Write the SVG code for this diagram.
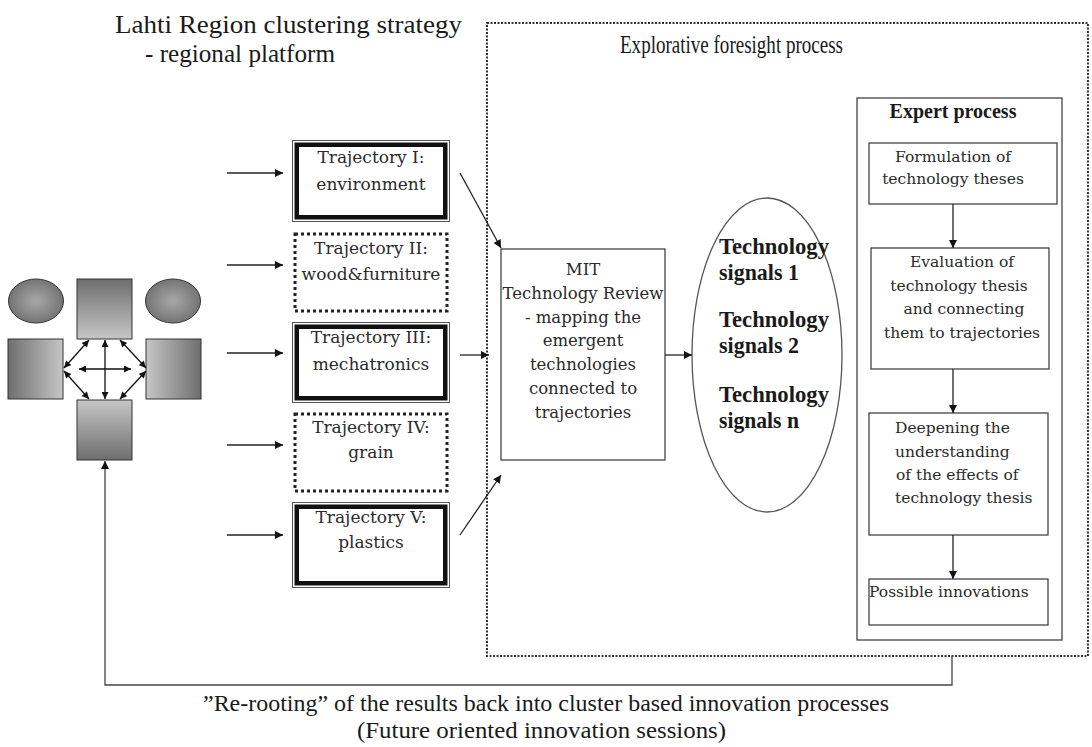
<svg xmlns="http://www.w3.org/2000/svg" width="1092" height="747" viewBox="0 0 1092 747">
<style>
.t{font-family:"DejaVu Serif",serif;fill:#2a2a2a;}
.tt{font-family:"Liberation Serif","Times New Roman",serif;fill:#1a1a1a;}
.ln{stroke:#222;stroke-width:1.3;fill:none;}
.box{fill:#fff;stroke:#444;stroke-width:1.3;}
.thin{fill:none;stroke:#555;stroke-width:1;}
.thick{fill:none;stroke:#111;stroke-width:4.5;}
.dotbox{fill:#fff;stroke:#222;stroke-width:3;stroke-dasharray:3 3;}
.sq{stroke:#333;stroke-width:1;}
</style>
<defs>
<marker id="ah" viewBox="0 0 10 10" refX="10" refY="5" markerWidth="10" markerHeight="8" markerUnits="userSpaceOnUse" orient="auto-start-reverse"><path d="M0,0 L10,5 L0,10 z" fill="#111"/></marker>
<marker id="sh" viewBox="0 0 10 10" refX="10" refY="5" markerWidth="8" markerHeight="7" markerUnits="userSpaceOnUse" orient="auto-start-reverse"><path d="M0,0 L10,5 L0,10 z" fill="#111"/></marker>
<linearGradient id="gTop" x1="0" y1="0" x2="0" y2="1"><stop offset="0" stop-color="#6e6e6e"/><stop offset="1" stop-color="#c6c6c6"/></linearGradient>
<linearGradient id="gBot" x1="0" y1="0" x2="0" y2="1"><stop offset="0" stop-color="#c6c6c6"/><stop offset="1" stop-color="#6e6e6e"/></linearGradient>
<linearGradient id="gLeft" x1="0" y1="0" x2="1" y2="0"><stop offset="0" stop-color="#6e6e6e"/><stop offset="1" stop-color="#c6c6c6"/></linearGradient>
<linearGradient id="gRight" x1="0" y1="0" x2="1" y2="0"><stop offset="0" stop-color="#c6c6c6"/><stop offset="1" stop-color="#6e6e6e"/></linearGradient>
<radialGradient id="gEl" cx="0.5" cy="0.5" r="0.6"><stop offset="0" stop-color="#a8a8a8"/><stop offset="1" stop-color="#6a6a6a"/></radialGradient>
</defs>
<rect width="1092" height="747" fill="#fff"/>

<g id="title">
<text class="tt" x="115" y="33" font-size="26" textLength="347" lengthAdjust="spacingAndGlyphs">Lahti Region clustering strategy</text>
<text class="tt" x="145" y="62" font-size="26" textLength="190" lengthAdjust="spacingAndGlyphs">- regional platform</text>
</g>

<g id="foresight-frame">
<rect x="487" y="23" width="601" height="633" fill="none" stroke="#333" stroke-width="2" stroke-dasharray="2 1.5"/>
<text class="tt" x="620" y="53" font-size="25" textLength="223" lengthAdjust="spacingAndGlyphs">Explorative foresight process</text>
</g>

<g id="cluster">
<ellipse cx="36" cy="301" rx="27.5" ry="22" fill="url(#gEl)" class="sq"/>
<ellipse cx="173" cy="301" rx="27.5" ry="22" fill="url(#gEl)" class="sq"/>
<rect x="77" y="279" width="55" height="60" fill="url(#gTop)" class="sq"/>
<rect x="8" y="339" width="55" height="60" fill="url(#gLeft)" class="sq"/>
<rect x="146" y="339" width="55" height="60" fill="url(#gRight)" class="sq"/>
<rect x="77" y="400" width="55" height="60" fill="url(#gBot)" class="sq"/>
<g stroke="#111" stroke-width="1.3" marker-start="url(#sh)" marker-end="url(#sh)">
<line x1="105" y1="340" x2="105" y2="399"/>
<line x1="79" y1="369" x2="131" y2="369"/>
<line x1="89" y1="340" x2="64" y2="368"/>
<line x1="120" y1="340" x2="146" y2="368"/>
<line x1="64" y1="371" x2="89" y2="399"/>
<line x1="146" y1="371" x2="120" y2="399"/>
</g>
</g>

<g id="traj1">
<rect x="292.5" y="140.5" width="157" height="81" class="thin" fill="#fff"/>
<rect x="296.75" y="144.75" width="148.5" height="72.5" class="thick"/>
<text class="t" x="371" y="163" font-size="17" text-anchor="middle">Trajectory I:</text>
<text class="t" x="371" y="190" font-size="17" text-anchor="middle">environment</text>
</g>
<g id="traj2">
<rect x="295" y="234" width="152" height="77" class="dotbox"/>
<text class="t" x="371" y="254" font-size="17" text-anchor="middle">Trajectory II:</text>
<text class="t" x="371" y="280" font-size="17" text-anchor="middle">wood&amp;furniture</text>
</g>
<g id="traj3">
<rect x="292.5" y="322.5" width="157" height="80" class="thin" fill="#fff"/>
<rect x="296.75" y="326.75" width="148.5" height="71.5" class="thick"/>
<text class="t" x="371" y="343" font-size="17" text-anchor="middle">Trajectory III:</text>
<text class="t" x="371" y="370" font-size="17" text-anchor="middle">mechatronics</text>
</g>
<g id="traj4">
<rect x="295" y="414" width="152" height="77" class="dotbox"/>
<text class="t" x="371" y="433" font-size="17" text-anchor="middle">Trajectory IV:</text>
<text class="t" x="371" y="458" font-size="17" text-anchor="middle">grain</text>
</g>
<g id="traj5">
<rect x="292.5" y="502.5" width="157" height="85" class="thin" fill="#fff"/>
<rect x="296.75" y="506.75" width="148.5" height="76.5" class="thick"/>
<text class="t" x="371" y="523" font-size="17" text-anchor="middle">Trajectory V:</text>
<text class="t" x="371" y="548" font-size="17" text-anchor="middle">plastics</text>
</g>

<g id="mit">
<rect x="501" y="249" width="164" height="211" class="box"/>
<g class="t" font-size="16.5" text-anchor="middle">
<text x="583" y="275">MIT</text>
<text x="583" y="299">Technology Review</text>
<text x="583" y="322.5">- mapping the</text>
<text x="583" y="346">emergent</text>
<text x="583" y="370">technologies</text>
<text x="583" y="394">connected to</text>
<text x="583" y="418">trajectories</text>
</g>
</g>

<g id="signals">
<ellipse cx="767" cy="355" rx="75" ry="157" fill="#fff" stroke="#555" stroke-width="1.3"/>
<g class="tt" font-size="23.5" font-weight="bold" lengthAdjust="spacingAndGlyphs">
<text x="719" y="254" textLength="110" lengthAdjust="spacingAndGlyphs">Technology</text>
<text x="719" y="280" textLength="80" lengthAdjust="spacingAndGlyphs">signals 1</text>
<text x="719" y="327" textLength="110" lengthAdjust="spacingAndGlyphs">Technology</text>
<text x="719" y="353" textLength="80" lengthAdjust="spacingAndGlyphs">signals 2</text>
<text x="719" y="402" textLength="110" lengthAdjust="spacingAndGlyphs">Technology</text>
<text x="719" y="428" textLength="80" lengthAdjust="spacingAndGlyphs">signals n</text>
</g>
</g>

<g id="expert">
<rect x="857" y="98" width="205" height="542" class="box"/>
<text class="tt" x="953" y="118" font-size="20" font-weight="bold" text-anchor="middle">Expert process</text>
</g>
<g id="formulation">
<rect x="869" y="143" width="188" height="61" class="box"/>
<text class="t" x="953" y="162" font-size="15.5" text-anchor="middle">Formulation of</text>
<text class="t" x="953" y="184" font-size="15.5" text-anchor="middle">technology theses</text>
</g>
<g id="evaluation">
<rect x="871" y="248" width="178" height="121" class="box"/>
<g class="t" font-size="15.5" text-anchor="middle">
<text x="962" y="267">Evaluation of</text>
<text x="959" y="291">technology thesis</text>
<text x="964" y="314">and connecting</text>
<text x="962" y="338">them to trajectories</text>
</g>
</g>
<g id="deepening">
<rect x="869" y="413" width="179" height="122" class="box"/>
<g class="t" font-size="15.5">
<text x="895" y="433">Deepening the</text>
<text x="895" y="457">understanding</text>
<text x="896" y="480">of the effects of</text>
<text x="895" y="503">technology thesis</text>
</g>
</g>
<g id="innovations">
<rect x="869" y="579" width="179" height="46" class="box"/>
<text class="t" x="869" y="597" font-size="15.5">Possible innovations</text>
</g>

<g id="connectors" class="ln">
<line x1="227" y1="173" x2="283" y2="173" marker-end="url(#ah)"/>
<line x1="227" y1="265" x2="283" y2="265" marker-end="url(#ah)"/>
<line x1="227" y1="353" x2="283" y2="353" marker-end="url(#ah)"/>
<line x1="227" y1="445" x2="283" y2="445" marker-end="url(#ah)"/>
<line x1="227" y1="535" x2="283" y2="535" marker-end="url(#ah)"/>
<line x1="460" y1="173" x2="501" y2="248" marker-end="url(#ah)"/>
<line x1="460" y1="355" x2="489" y2="355" marker-end="url(#ah)"/>
<line x1="460" y1="535" x2="501" y2="475" marker-end="url(#ah)"/>
<line x1="665" y1="355" x2="692" y2="355" marker-end="url(#ah)"/>
<line x1="953" y1="204" x2="953" y2="248" marker-end="url(#ah)"/>
<line x1="953" y1="369" x2="953" y2="413" marker-end="url(#ah)"/>
<line x1="953" y1="535" x2="953" y2="579" marker-end="url(#ah)"/>
<path d="M952,656 V685 H105 V461" stroke="#444" marker-end="url(#ah)"/>
</g>

<g id="bottom-text">
<text class="tt" x="203" y="711" font-size="23" textLength="686" lengthAdjust="spacingAndGlyphs">”Re-rooting” of the results back into cluster based innovation processes</text>
<text class="tt" x="357" y="738" font-size="23" textLength="369" lengthAdjust="spacingAndGlyphs">(Future oriented innovation sessions)</text>
</g>
</svg>
